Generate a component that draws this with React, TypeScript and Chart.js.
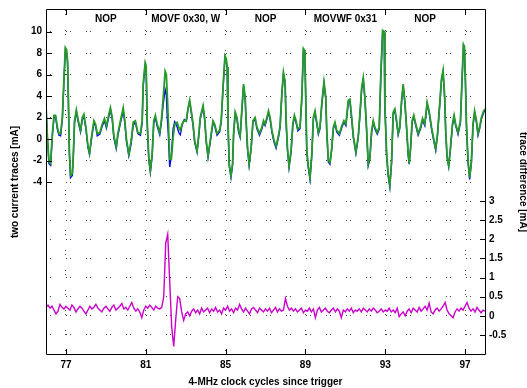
import React, { useEffect, useRef } from "react";
import { Chart, registerables } from "chart.js";
Chart.register(...registerables);

const xTicks = [77, 81, 85, 89, 93, 97];
const leftTicks = [-4, -2, 0, 2, 4, 6, 8, 10];
const rightTicks = [-0.5, 0, 0.5, 1, 1.5, 2, 2.5, 3];
const instrLabels = ["NOP", "MOVF 0x30, W", "NOP", "MOVWF 0x31", "NOP"];
const instrCenters = [79, 83, 87, 91, 95];

// clock cycles since trigger for the two current traces
const currentTimes = [
  76.0, 76.07, 76.15, 76.23, 76.32, 76.4, 76.48, 76.57, 76.65, 76.73,
  76.82, 76.9, 76.97, 77.03, 77.08, 77.12, 77.17, 77.23, 77.32, 77.37,
  77.43, 77.52, 77.62, 77.73, 77.82, 77.9, 78.0, 78.1, 78.18, 78.28,
  78.4, 78.48, 78.57, 78.7, 78.82, 78.93, 79.03, 79.15, 79.23, 79.32,
  79.4, 79.52, 79.6, 79.73, 79.87, 79.95, 80.03, 80.15, 80.27, 80.37,
  80.48, 80.6, 80.73, 80.82, 80.87, 80.97, 81.02, 81.07, 81.15, 81.23,
  81.32, 81.4, 81.48, 81.57, 81.7, 81.78, 81.87, 81.97, 82.03, 82.08,
  82.13, 82.2, 82.28, 82.37, 82.45, 82.57, 82.65, 82.73, 82.82, 82.93,
  83.03, 83.12, 83.2, 83.28, 83.37, 83.45, 83.57, 83.65, 83.73, 83.87,
  83.95, 84.03, 84.12, 84.23, 84.37, 84.45, 84.57, 84.7, 84.78, 84.87,
  84.97, 85.03, 85.08, 85.12, 85.18, 85.27, 85.35, 85.4, 85.48, 85.57,
  85.65, 85.73, 85.82, 85.9, 85.98, 86.03, 86.1, 86.18, 86.28, 86.37,
  86.48, 86.57, 86.7, 86.82, 86.9, 86.98, 87.07, 87.15, 87.23, 87.32,
  87.43, 87.53, 87.65, 87.73, 87.82, 87.9, 87.98, 88.03, 88.1, 88.18,
  88.28, 88.37, 88.45, 88.53, 88.62, 88.73, 88.82, 88.9, 88.97, 89.02,
  89.07, 89.15, 89.23, 89.32, 89.4, 89.48, 89.57, 89.65, 89.73, 89.82,
  89.93, 90.02, 90.07, 90.15, 90.23, 90.32, 90.4, 90.48, 90.57, 90.7,
  90.82, 90.93, 91.03, 91.15, 91.23, 91.32, 91.4, 91.53, 91.65, 91.73,
  91.82, 91.9, 91.98, 92.07, 92.15, 92.23, 92.32, 92.4, 92.48, 92.6,
  92.7, 92.78, 92.87, 92.95, 92.98, 93.07, 93.15, 93.23, 93.32, 93.4,
  93.48, 93.57, 93.65, 93.73, 93.82, 93.9, 93.98, 94.07, 94.15, 94.2,
  94.27, 94.35, 94.43, 94.53, 94.65, 94.77, 94.87, 94.98, 95.1, 95.2,
  95.32, 95.43, 95.53, 95.62, 95.73, 95.82, 95.9, 95.98, 96.03, 96.1,
  96.18, 96.27, 96.37, 96.45, 96.53, 96.65, 96.77, 96.85, 96.92, 96.97,
  97.02, 97.07, 97.15, 97.23, 97.32, 97.4, 97.48, 97.57, 97.65, 97.73,
  97.82, 97.93, 98.0,
];

// trace A (green) [mA]
const traceA = [
  3.1, 0.2, -2.1, -2.3, 0.5, 2.2, 2.2, 1.1, 0.5, 0.5,
  2.0, 5.6, 8.5, 8.3, 7.3, 3.9, -1.1, -3.4, -3.2, -1.4,
  1.7, 2.7, 1.7, 0.8, 2.0, 2.3, 1.1, -0.6, -1.3, 0.15,
  1.7, 1.4, 0.5, 0.6, 1.4, 1.9, 1.2, 2.3, 2.9, 2.0,
  0.3, -0.7, 0.5, 1.7, 2.9, 1.7, 0.0, -1.4, -0.15, 1.55,
  1.7, 0.6, 0.5, 1.7, 5.1, 7.1, 6.8, 1.7, -1.7, -2.9,
  -1.4, 1.7, 2.2, 1.4, 0.6, 1.7, 3.7, 6.3, 6.0, 4.0,
  1.7, -1.9, -1.9, 0.15, 1.4, 1.55, 1.1, 0.8, 1.4, 1.7,
  1.7, 2.9, 3.6, 2.6, 1.4, -0.15, -1.1, 0.3, 2.0, 3.1,
  2.0, -0.15, -1.55, -0.15, 1.7, 1.4, 0.5, 0.8, 1.7, 4.8,
  7.75, 7.5, 6.7, 1.7, -2.3, -3.4, -2.3, 0.5, 2.5, 2.0,
  0.8, 0.3, 2.9, 5.1, 3.9, 1.7, -0.8, -2.3, -0.8, 1.7,
  2.0, 1.1, 0.5, 1.1, 1.7, 1.4, 2.0, 2.6, 2.0, 0.8,
  -0.15, -0.7, 0.3, 1.2, 4.3, 6.2, 5.4, 1.9, -0.8, -2.5,
  -1.1, 1.4, 2.2, 1.7, 0.9, 1.1, 3.9, 8.4, 8.2, 3.6,
  -1.1, -2.6, -3.6, -1.4, 2.0, 2.6, 1.55, 0.6, 1.1, 3.3,
  5.3, 3.9, 0.8, -2.0, -2.2, -0.8, 1.1, 1.55, 0.8, 0.5,
  1.2, 1.7, 1.4, 3.6, 3.7, 2.0, 0.3, -1.2, 0.3, 2.3,
  4.8, 5.7, 3.9, 0.8, -2.3, -1.7, 0.8, 1.7, 1.1, 0.6,
  1.1, 6.0, 10.1, 10.0, 3.3, -1.4, -3.3, -4.3, -2.0, 2.5,
  2.8, 1.7, 0.5, 1.1, 3.6, 5.1, 3.6, 1.1, -1.4, -2.3,
  -0.8, 1.7, 2.2, 1.4, 0.5, 1.1, 1.9, 1.4, 3.4, 2.6,
  1.1, 0.0, -0.9, 0.5, 3.3, 5.6, 6.4, 3.9, 0.8, -1.7,
  -2.5, -0.8, 1.4, 2.2, 1.4, 0.6, 1.7, 5.6, 8.8, 8.6,
  5.4, 1.4, -2.0, -3.6, -2.0, 1.4, 2.6, 1.7, 0.5, 1.1,
  2.0, 2.6, 2.8,
];

// trace B (blue) [mA]
const traceB = [
  2.95, 0.05, -2.3, -2.45, 0.35, 2.0, 2.05, 0.9, 0.35, 0.3,
  1.85, 5.4, 8.3, 8.1, 7.1, 3.7, -1.3, -3.6, -3.4, -1.6,
  1.5, 2.5, 1.55, 0.65, 1.8, 2.1, 0.95, -0.75, -1.45, 0.0,
  1.5, 1.25, 0.3, 0.45, 1.2, 1.7, 1.0, 2.1, 2.7, 1.8,
  0.1, -0.9, 0.3, 1.5, 2.6, 1.5, -0.2, -1.55, -0.4, 1.3,
  1.55, 0.5, 0.35, 1.5, 4.9, 6.9, 6.6, 1.5, -1.9, -3.1,
  -1.6, 1.5, 2.0, 1.2, 0.4, 1.5, 3.2, 4.6, 4.1, 1.9,
  0.4, -2.6, -1.6, 0.95, 1.6, 1.15, 0.6, 0.4, 1.3, 1.8,
  1.65, 2.8, 3.45, 2.5, 1.25, -0.3, -1.2, 0.15, 1.85, 2.95,
  1.85, -0.3, -1.7, -0.3, 1.55, 1.25, 0.35, 0.65, 1.55, 4.65,
  7.6, 7.35, 6.55, 1.55, -2.45, -3.55, -2.45, 0.35, 2.3, 1.85,
  0.65, 0.15, 2.75, 4.95, 3.75, 1.55, -0.95, -2.45, -0.95, 1.55,
  1.85, 0.95, 0.35, 0.95, 1.55, 1.25, 1.85, 2.45, 1.85, 0.65,
  -0.3, -0.85, 0.15, 1.05, 4.15, 6.05, 5.25, 1.6, -1.05, -2.65,
  -1.25, 1.25, 2.05, 1.55, 0.75, 0.95, 3.75, 8.25, 8.05, 3.45,
  -1.25, -2.75, -3.75, -1.55, 1.85, 2.45, 1.4, 0.45, 0.95, 3.15,
  5.15, 3.75, 0.65, -2.15, -2.35, -0.95, 0.95, 1.4, 0.65, 0.35,
  1.05, 1.55, 1.25, 3.45, 3.55, 1.85, 0.15, -1.35, 0.15, 2.15,
  4.65, 5.55, 3.75, 0.65, -2.45, -1.85, 0.65, 1.55, 0.95, 0.45,
  0.95, 5.85, 9.95, 9.85, 3.15, -1.55, -3.45, -4.45, -2.15, 2.35,
  2.65, 1.55, 0.4, 1.0, 3.45, 4.95, 3.45, 1.0, -1.45, -2.35,
  -0.95, 1.55, 2.05, 1.25, 0.35, 0.95, 1.75, 1.25, 3.2, 2.45,
  0.95, -0.15, -1.05, 0.35, 3.1, 5.45, 6.2, 3.7, 0.75, -1.7,
  -2.55, -0.9, 1.25, 2.05, 1.25, 0.45, 1.55, 5.45, 8.6, 8.3,
  5.2, 1.25, -2.15, -3.75, -2.15, 1.25, 2.45, 1.55, 0.35, 0.95,
  1.85, 2.45, 2.65,
];

// trace difference [mA], sampled every 0.1 clock cycle from 76.0 to 98.0
const diffStart = 76;
const diffStep = 0.1;
const traceDiff = [
  0.22, 0.28, 0.2, 0.25, 0.15, 0.05, 0.12, 0.3, 0.22, 0.18,
  0.25, 0.2, 0.15, 0.28, 0.22, 0.1, 0.18, 0.25, 0.2, 0.12,
  0.05, 0.15, 0.25, 0.18, 0.22, 0.3, 0.2, 0.15, 0.1, 0.2,
  0.25, 0.18, 0.12, 0.22, 0.28, 0.15, 0.2, 0.25, 0.32, 0.18,
  0.22, 0.15, 0.25, 0.35, 0.2, 0.12, 0.18, 0.1, -0.05, 0.15,
  0.25, 0.2, 0.28, 0.22, 0.15, 0.25, 0.2, 0.18, 0.22, 0.5,
  1.9, 2.13, 0.9, -0.3, -0.8, -0.1, 0.5, 0.45, 0.1, -0.12,
  0.05, 0.1, 0.0, 0.12, 0.18, 0.08, 0.15, 0.05, 0.2, 0.1,
  0.15, 0.2, 0.08, 0.18, 0.12, 0.22, 0.1, 0.15, 0.05, 0.2,
  0.15, 0.25, 0.12, 0.18, 0.08, 0.2, 0.15, 0.3, 0.18, 0.1,
  0.2, 0.12, 0.05, 0.18, 0.22, 0.15, 0.08, 0.2, 0.15, 0.1,
  0.18, 0.12, 0.2, 0.08, 0.15, 0.22, 0.1, 0.18, 0.12, 0.15,
  0.45, 0.25, 0.15, 0.2, 0.12, 0.18, 0.1, 0.15, 0.2, 0.08,
  0.15, 0.12, 0.2, 0.1, 0.18, -0.05, 0.15, 0.22, 0.1, 0.15,
  0.2, 0.12, 0.08, 0.15, 0.2, 0.1, 0.18, 0.12, -0.05, 0.15,
  0.1, 0.18, 0.12, 0.2, 0.08, 0.15, 0.12, 0.18, 0.1, 0.2,
  0.15, 0.1, 0.18, 0.12, 0.2, 0.15, 0.08, 0.12, 0.18, 0.1,
  0.15, 0.12, 0.2, 0.1, 0.15, 0.08, 0.2, -0.02, 0.05, 0.1,
  0.0, 0.12, 0.18, 0.08, 0.2, 0.15, 0.1, 0.22, 0.12, 0.18,
  0.25, 0.15, 0.33, 0.1, 0.05, 0.15, 0.2, 0.12, 0.18, 0.25,
  0.35, 0.15, 0.05, 0.0, -0.05, 0.1, 0.18, 0.12, 0.2, 0.15,
  0.25, 0.35, 0.2, 0.12, 0.18, 0.1, 0.22, 0.15, 0.08, 0.15,
  0.12,
];

const FONT = "'Liberation Sans', Arial, Helvetica, sans-serif";

const framePlugin = {
  id: "frame",
  afterDraw(chart: any) {
    const { ctx, chartArea, scales } = chart;
    const { left, right, top, bottom } = chartArea;
    ctx.save();
    ctx.strokeStyle = "#000";
    ctx.lineWidth = 1;
    ctx.beginPath();
    ctx.rect(left + 0.5, top - 0.5, right - left, bottom - top + 1);
    ctx.stroke();
    ctx.beginPath();
    for (const v of leftTicks) {
      const y = Math.round(scales.y.getPixelForValue(v)) + 0.5;
      ctx.moveTo(left, y);
      ctx.lineTo(left + 6, y);
    }
    for (const v of rightTicks) {
      const y = Math.round(scales.y1.getPixelForValue(v)) + 0.5;
      ctx.moveTo(right - 5, y);
      ctx.lineTo(right + 1, y);
    }
    for (const v of xTicks) {
      const x = Math.round(scales.x.getPixelForValue(v)) + 0.5;
      ctx.moveTo(x, bottom);
      ctx.lineTo(x, bottom - 5);
      ctx.moveTo(x, top);
      ctx.lineTo(x, top + 5);
    }
    ctx.stroke();
    ctx.fillStyle = "#000";
    ctx.font = `bold 10px ${FONT}`;
    ctx.textAlign = "center";
    ctx.textBaseline = "middle";
    instrLabels.forEach((t, i) => {
      ctx.fillText(t, scales.x.getPixelForValue(instrCenters[i]), top + 9);
    });
    ctx.restore();
  },
};

export default function App() {
  const ref = useRef<HTMLCanvasElement | null>(null);
  useEffect(() => {
    if (!ref.current) return;
    const gridDash = [1, 3, 1, 15];
    const tickFont = { family: FONT, size: 10, weight: "bold" as const };
    const chart = new Chart(ref.current, {
      type: "line",
      data: {
        datasets: [
          {
            label: "trace A",
            data: currentTimes.map((t, i) => ({ x: t, y: traceA[i] })),
            borderColor: "#279b27",
            borderWidth: 1.8,
            pointRadius: 0,
            tension: 0,
            yAxisID: "y",
          },
          {
            label: "trace B",
            data: currentTimes.map((t, i) => ({ x: t, y: traceB[i] })),
            borderColor: "#0000ff",
            borderWidth: 1.4,
            pointRadius: 0,
            tension: 0,
            yAxisID: "y",
          },
          {
            label: "difference",
            data: traceDiff.map((v, i) => ({ x: diffStart + i * diffStep, y: v })),
            borderColor: "#cc00cc",
            borderWidth: 1.4,
            pointRadius: 0,
            tension: 0,
            yAxisID: "y1",
          },
        ],
      },
      options: {
        animation: false,
        responsive: false,
        events: [],
        layout: { padding: { top: 10, left: 0, right: 0, bottom: 0 } },
        plugins: { legend: { display: false }, tooltip: { enabled: false } },
        scales: {
          x: {
            type: "linear",
            min: 76,
            max: 98,
            afterBuildTicks: (s: any) => {
              s.ticks = xTicks.map((v) => ({ value: v }));
            },
            afterFit: (s: any) => {
              s.height = 34;
            },
            ticks: { font: tickFont, color: "#000", padding: 5, maxRotation: 0, callback: (v: any) => String(v) },
            grid: { color: "#444", lineWidth: 1, drawTicks: false },
            border: { display: false, dash: gridDash },
            title: {
              display: true,
              text: "4-MHz clock cycles since trigger",
              font: tickFont,
              color: "#000",
              padding: { top: 0, bottom: 0 },
            },
          },
          y: {
            type: "linear",
            position: "left",
            min: -20,
            max: 12,
            afterBuildTicks: (s: any) => {
              s.ticks = leftTicks.map((v) => ({ value: v }));
            },
            afterFit: (s: any) => {
              s.width = 46;
            },
            ticks: { font: tickFont, color: "#000", padding: 4, callback: (v: any) => String(v) },
            grid: { color: "#444", lineWidth: 1, drawTicks: false },
            border: { display: false, dash: gridDash },
            title: {
              display: true,
              text: "two current traces [mA]",
              font: tickFont,
              color: "#000",
              padding: { top: 9, bottom: 0 },
            },
          },
          y1: {
            type: "linear",
            position: "right",
            min: -1,
            max: 8,
            afterBuildTicks: (s: any) => {
              s.ticks = rightTicks.map((v) => ({ value: v }));
            },
            afterFit: (s: any) => {
              s.width = 42;
            },
            ticks: { font: tickFont, color: "#000", padding: 4, callback: (v: any) => String(v) },
            grid: { color: "#444", lineWidth: 1, drawTicks: false },
            border: { display: false, dash: gridDash },
            title: {
              display: true,
              text: "trace difference [mA]",
              font: tickFont,
              color: "#000",
              padding: { top: -2, bottom: 0 },
            },
          },
        },
      },
      plugins: [framePlugin],
    });
    return () => chart.destroy();
  }, []);
  return (
    <div style={{ position: "fixed", left: 0, top: 0, width: 527, height: 388, background: "#fff" }}>
      <canvas ref={ref} width={527} height={388} style={{ display: "block" }} />
    </div>
  );
}
